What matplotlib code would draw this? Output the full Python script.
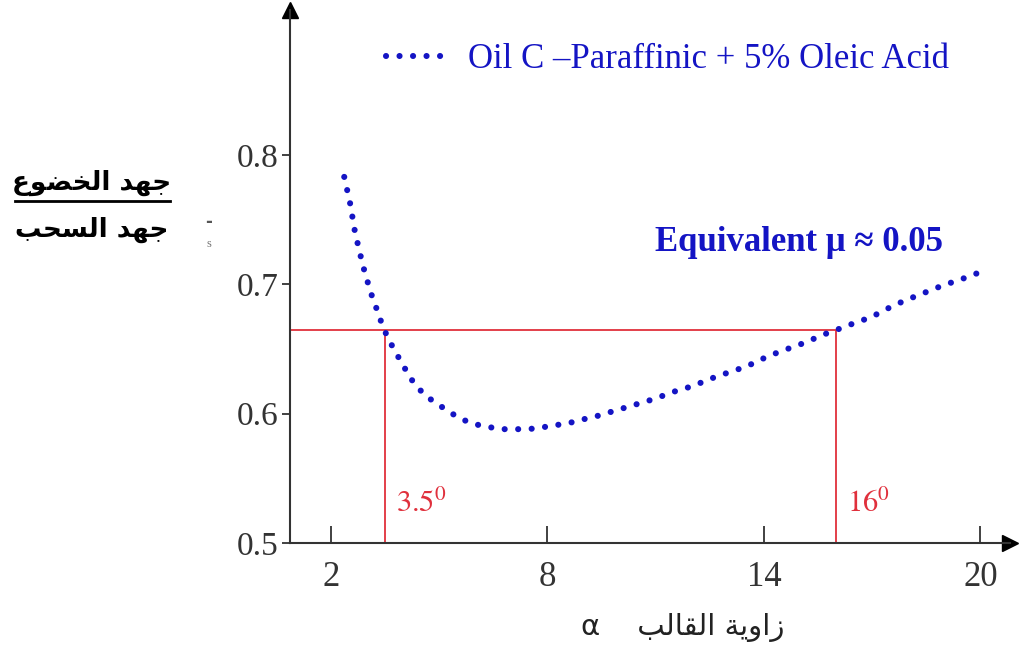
import matplotlib
matplotlib.use("Agg")
import matplotlib.pyplot as plt

# ---- data ----
alpha = [2.37, 2.53, 2.67, 2.84, 2.95, 3.06, 3.17, 3.31, 3.44, 3.61, 3.78, 3.97,
         4.19, 4.41, 4.66, 4.93, 5.24, 5.60, 5.96, 6.31, 6.70, 7.06, 7.45, 7.80,
         8.16, 8.52, 8.88, 9.24, 9.60, 9.96, 10.32, 10.68, 11.04, 11.39, 11.75,
         12.11, 12.41, 12.74, 13.13, 13.49, 13.85, 14.18, 14.54, 14.87, 15.23,
         15.56, 15.92, 16.25, 16.58, 16.94, 17.27, 17.63, 17.96, 18.32, 18.68,
         19.04, 19.40, 19.75, 20.08]
ratio = [0.783, 0.763, 0.740, 0.720, 0.708, 0.698, 0.688, 0.678, 0.667, 0.657,
         0.648, 0.639, 0.628, 0.620, 0.613, 0.608, 0.602, 0.596, 0.592, 0.590,
         0.588, 0.588, 0.588, 0.589, 0.591, 0.592, 0.595, 0.597, 0.600, 0.603,
         0.606, 0.609, 0.612, 0.616, 0.619, 0.622, 0.626, 0.629, 0.633, 0.636,
         0.641, 0.645, 0.649, 0.652, 0.656, 0.660, 0.664, 0.667, 0.671, 0.674,
         0.679, 0.684, 0.688, 0.692, 0.696, 0.700, 0.703, 0.707, 0.710]
cross_x = [3.5, 16]
cross_y = 0.665
cross_labels = [r"$\mathrm{3.5^{0}}$", r"$\mathrm{16^{0}}$"]
x_ticks = [2, 8, 14, 20]
y_ticks = [0.5, 0.6, 0.7, 0.8]
y_ticklabels = ["0.5", "0.6", "0.7", "0.8"]
series_name = "Oil C \u2013Paraffinic + 5% Oleic Acid"
note_text = "Equivalent \u03bc \u2248 0.05"
# Arabic, written in presentation forms in visual order
ylabel_top = "\ufec9\ufeee\ufec0\ufea8\ufedf\ufe8d \ufeaa\ufeec\ufe9f"      # جهد الخضوع
ylabel_bottom = "\ufe90\ufea4\ufeb4\ufedf\ufe8d \ufeaa\ufeec\ufe9f"         # جهد السحب
xlabel_ar = "\ufe90\ufedf\ufe8e\ufed8\ufedf\ufe8d \ufe94\ufef3\ufeed\ufe8d\ufeaf"  # زاوية القالب

plt.rcParams["mathtext.fontset"] = "stix"

BLUE = "#1414c4"
RED = "#e0303c"
AX = "#333333"

fig = plt.figure(figsize=(10.19, 6.47), dpi=100)
ax = fig.add_axes([290 / 1019, 1 - 543 / 647, 720 / 1019, 533 / 647])
ax.set_xlim(0.867, 20.82)
ax.set_ylim(0.5, 0.912)

for s in ("top", "right"):
    ax.spines[s].set_visible(False)
for s in ("left", "bottom"):
    ax.spines[s].set_color(AX)
    ax.spines[s].set_linewidth(1.5)

# arrow heads
ax.plot(1, 0, marker=">", color="black", ms=11, transform=ax.transAxes, clip_on=False)
ax.plot(0, 1, marker="^", color="black", ms=11, transform=ax.transAxes, clip_on=False)

# red guide lines
ax.hlines(cross_y, ax.get_xlim()[0], cross_x[1], color=RED, lw=1.3, zorder=2)
ax.vlines(cross_x, 0.5, cross_y, color=RED, lw=1.3, zorder=2)
for xv, lab in zip(cross_x, cross_labels):
    ax.annotate(lab, xy=(xv, 0.5), xytext=(8, 18), textcoords="offset points",
                ha="left", va="bottom", color=RED, fontsize=22)

# curve
line, = ax.plot(alpha, ratio, color=BLUE, lw=4.4, linestyle=(0, (0.01, 2.2)),
                dash_capstyle="round", zorder=3, label=series_name)

# ticks
ax.set_xticks(x_ticks)
ax.set_xticklabels([str(v) for v in x_ticks], family="Liberation Serif",
                   fontsize=25, color=AX)
ax.set_yticks(y_ticks)
ax.set_yticklabels(y_ticklabels, family="Liberation Serif", fontsize=24, color=AX)
ax.tick_params(axis="x", direction="in", length=12, width=1.3, color=AX, pad=13)
ax.tick_params(axis="y", direction="out", length=6, width=1.3, color=AX, pad=2)

# legend
leg = ax.legend(handles=[line], loc="upper left", bbox_to_anchor=(386 / 1019, 1 - 43 / 647),
                bbox_transform=fig.transFigure, frameon=False, borderpad=0,
                borderaxespad=0, handlelength=1.6, handletextpad=0.75,
                prop={"family": "Liberation Serif", "size": 25})
for t in leg.get_texts():
    t.set_color(BLUE)

# annotation
fig.text(655 / 1019, 1 - 242 / 647, note_text, family="Liberation Serif",
         weight="bold", fontsize=25, color=BLUE, ha="left", va="center")

# Arabic y label (fraction)
fig.text(92 / 1019, 1 - 183 / 647, ylabel_top, family="DejaVu Sans", weight="bold",
         fontsize=19, color="black", ha="center", va="center")
fig.add_artist(plt.Line2D([15 / 1019, 170 / 1019], [1 - 201 / 647, 1 - 201 / 647],
                          color="black", lw=2))
fig.text(92 / 1019, 1 - 230 / 647, ylabel_bottom, family="DejaVu Sans", weight="bold",
         fontsize=19, color="black", ha="center", va="center")
fig.text(209 / 1019, 1 - 222 / 647, "-", fontsize=12, color="#555555", ha="center",
         va="center", weight="bold")
fig.text(209 / 1019, 1 - 244 / 647, "s", family="Liberation Serif", fontsize=9,
         color="#777777", ha="center", va="center")

# x label
fig.text(683 / 1019, 1 - 628 / 647, "\u03b1    " + xlabel_ar,
         family=["DejaVu Sans"], fontsize=21, color="#222222", ha="center", va="center")

fig.savefig("out.png", dpi=100)
